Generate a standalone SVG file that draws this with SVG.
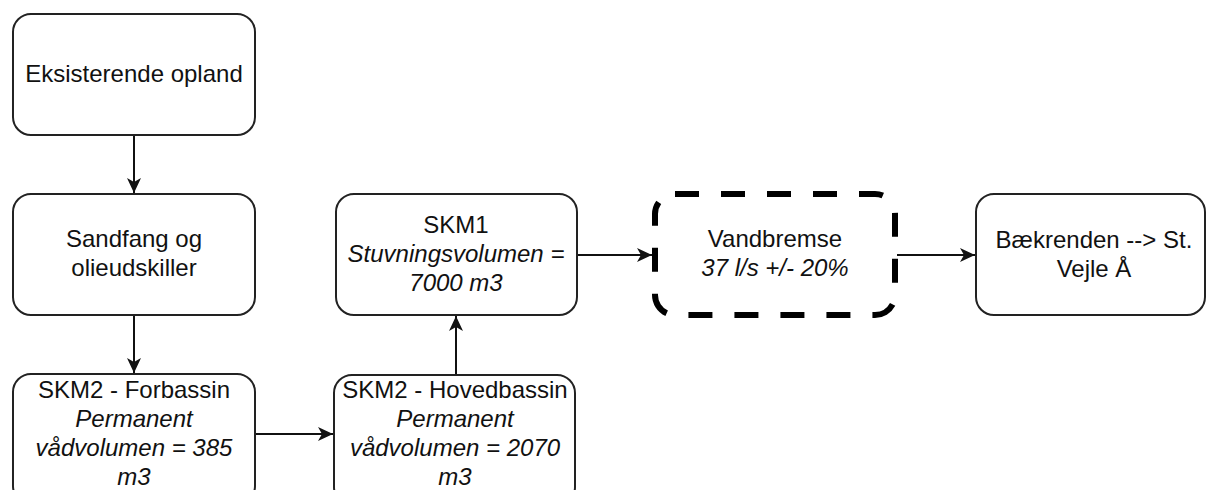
<svg xmlns="http://www.w3.org/2000/svg" width="1207" height="490" viewBox="0 0 1207 490">
<defs>
<style>
.box{fill:#fff;stroke:#222;stroke-width:2}
.dash{fill:#fff;stroke:#000;stroke-width:6;stroke-dasharray:24 22}
text{font-family:"Liberation Sans",Arial,sans-serif;font-size:24px;fill:#111;text-anchor:middle}
.it{font-style:italic}
.edge{stroke:#111;stroke-width:2;fill:none}
</style>
<marker id="arr" markerUnits="userSpaceOnUse" markerWidth="16" markerHeight="14" refX="15" refY="7" orient="auto">
<path d="M0,0 L15,7 L0,14 L4,7 Z" fill="#111"/>
</marker>
</defs>
<rect width="1207" height="490" fill="#fff"/>
<g id="connectors">
<line class="edge" x1="134" y1="135" x2="134" y2="193" marker-end="url(#arr)"/>
<line class="edge" x1="134" y1="315" x2="134" y2="373" marker-end="url(#arr)"/>
<line class="edge" x1="255" y1="434" x2="333" y2="434" marker-end="url(#arr)"/>
<line class="edge" x1="456" y1="375" x2="456" y2="316" marker-end="url(#arr)"/>
<line class="edge" x1="577" y1="255" x2="652" y2="255" marker-end="url(#arr)"/>
<line class="edge" x1="897" y1="255" x2="975" y2="255" marker-end="url(#arr)"/>
</g>
<g id="eksisterende">
<rect class="box" x="13" y="14" width="242" height="121" rx="18"/>
<text x="134" y="82">Eksisterende opland</text>
</g>
<g id="sandfang">
<rect class="box" x="13" y="194" width="242" height="121" rx="18"/>
<text x="134" y="247">Sandfang og</text>
<text x="134" y="276">olieudskiller</text>
</g>
<g id="forbassin">
<rect class="box" x="13" y="374" width="242" height="130" rx="18"/>
<text x="134" y="398">SKM2 - Forbassin</text>
<text class="it" x="134" y="427">Permanent</text>
<text class="it" x="134" y="456">vådvolumen = 385</text>
<text class="it" x="134" y="485">m3</text>
</g>
<g id="hovedbassin">
<rect class="box" x="334" y="375" width="241" height="130" rx="18"/>
<text x="455" y="398">SKM2 - Hovedbassin</text>
<text class="it" x="455" y="427">Permanent</text>
<text class="it" x="455" y="456">vådvolumen = 2070</text>
<text class="it" x="455" y="485">m3</text>
</g>
<g id="skm1">
<rect class="box" x="336" y="194" width="241" height="121" rx="18"/>
<text x="456" y="233">SKM1</text>
<text class="it" x="456" y="262">Stuvningsvolumen =</text>
<text class="it" x="456" y="291">7000 m3</text>
</g>
<g id="vandbremse">
<rect class="dash" x="655" y="194" width="240" height="121" rx="20"/>
<text x="775" y="247">Vandbremse</text>
<text class="it" x="775" y="276">37 l/s +/- 20%</text>
</g>
<g id="baekrenden">
<rect class="box" x="976" y="194" width="229" height="121" rx="18"/>
<text x="1094" y="248">Bækrenden --&gt; St.</text>
<text x="1094" y="277">Vejle Å</text>
</g>
</svg>
